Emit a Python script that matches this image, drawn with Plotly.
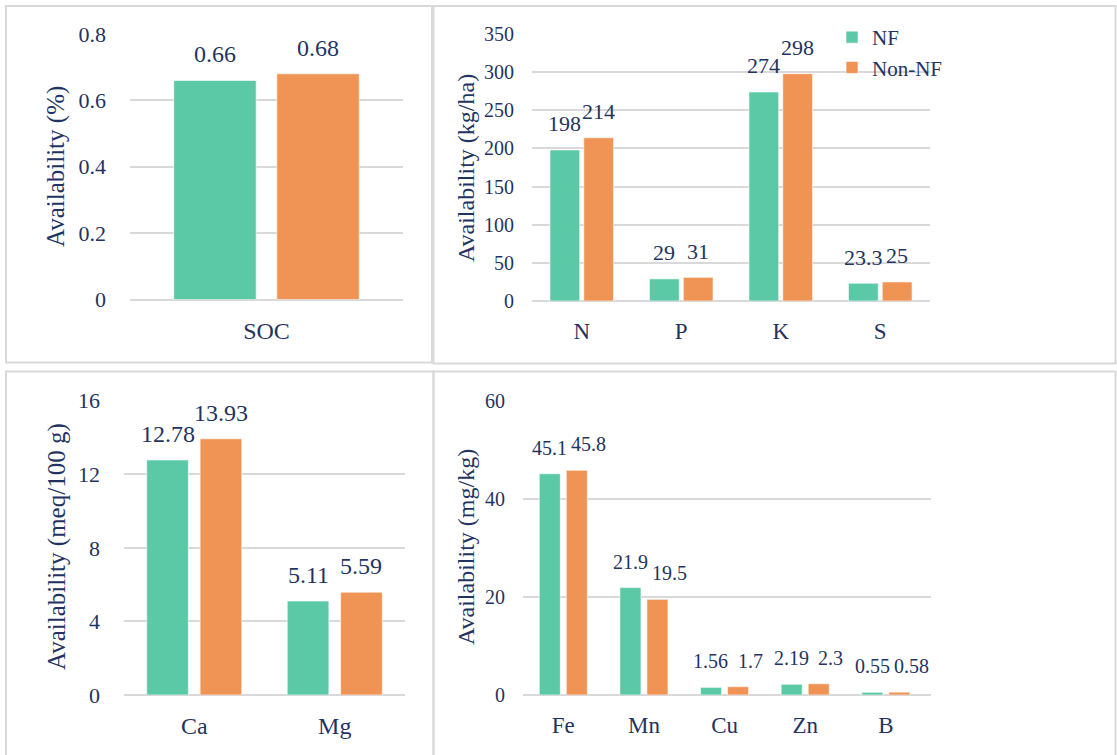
import plotly.graph_objects as go

W, H = 1117, 755
colors = {"NF": "#5BC9A5", "Non-NF": "#EF9455"}

cat1 = ["SOC"]
nf1 = [0.66]
non1 = [0.68]

cat2 = ["N", "P", "K", "S"]
nf2 = [198, 29, 274, 23.3]
non2 = [214, 31, 298, 25]

cat3 = ["Ca", "Mg"]
nf3 = [12.78, 5.11]
non3 = [13.93, 5.59]

cat4 = ["Fe", "Mn", "Cu", "Zn", "B"]
nf4 = [45.1, 21.9, 1.56, 2.19, 0.55]
non4 = [45.8, 19.5, 1.7, 2.3, 0.58]

ytitles = ["Availability (%)", "Availability (kg/ha)", "Availability (meq/100 g)", "Availability (mg/kg)"]

FONT = "Liberation Serif"
TXT = "#1F3462"
GRID = "#D9D9D9"

panels = [
    dict(cats=cat1, nf=nf1, non=non1, xd=(130, 403), yd=(34, 299.5), yr=[0, 0.8], dt=0.2,
         bg=0.245, bgg=0.2, tpos=(56, 167), tfs=25, lfs=24, cfs=24, kfs=22, ystand=23, nshift=0),
    dict(cats=cat2, nf=nf2, non=non2, xd=(532, 930), yd=(34, 301), yr=[0, 350], dt=50,
         bg=0.32, bgg=0.12, tpos=(466, 168), tfs=24, lfs=22, cfs=23, kfs=20, ystand=17, nshift=0),
    dict(cats=cat3, nf=nf3, non=non3, xd=(124, 405), yd=(400.7, 695), yr=[0, 16], dt=4,
         bg=0.24, bgg=0.22, tpos=(57, 547), tfs=25, lfs=24, cfs=24, kfs=22, ystand=23, nshift=0),
    dict(cats=cat4, nf=nf4, non=non4, xd=(523, 931), yd=(400.7, 695), yr=[0, 60], dt=20,
         bg=0.33, bgg=0.22, tpos=(466, 547), tfs=24, lfs=20, cfs=23, kfs=20, ystand=17, nshift=12),
]

fig = go.Figure()
layout = dict(
    width=W, height=H, margin=dict(l=0, r=0, t=0, b=0, autoexpand=False),
    paper_bgcolor="white", plot_bgcolor="white",
    font=dict(family=FONT, color=TXT, size=22),
    barmode="group", showlegend=True,
    legend=dict(x=832 / W, y=1 - 17 / H, xanchor="left", yanchor="top",
                font=dict(size=21, family=FONT, color=TXT), bgcolor="rgba(0,0,0,0)",
                tracegroupgap=0, itemwidth=30),
)

shapes = []
annotations = []
for i, p in enumerate(panels):
    n = "" if i == 0 else str(i + 1)
    xa, ya = "x" + n, "y" + n
    bg, bgg = p["bg"], p["bgg"]
    slot = (1 - bg) / 2
    w = slot * (1 - bgg)
    catpx = (p["xd"][1] - p["xd"][0]) / len(p["cats"])
    for k, (name, vals) in enumerate((("NF", p["nf"]), ("Non-NF", p["non"]))):
        off = -(1 - bg) / 2 + k * slot + (slot - w) / 2
        fig.add_trace(go.Bar(
            x=p["cats"], y=vals, name=name, xaxis=xa, yaxis=ya,
            width=w, offset=off,
            marker=dict(color=colors[name], line=dict(color="rgba(255,255,255,0.6)", width=1)),
            cliponaxis=False, showlegend=(i == 1),
        ))
        xs = (off + w / 2) * catpx + (p["nshift"] if k == 1 else 0)
        for c, v in zip(p["cats"], vals):
            annotations.append(dict(
                text=str(v), x=c, y=v, xref=xa, yref=ya, xshift=xs, yshift=26,
                xanchor="center", yanchor="middle", showarrow=False,
                font=dict(size=p["lfs"], family=FONT, color=TXT),
            ))
    layout["xaxis" + n] = dict(
        domain=[p["xd"][0] / W, p["xd"][1] / W], anchor=ya, showgrid=False, showline=False,
        ticks="", ticklabelstandoff=14, tickfont=dict(size=p["cfs"], family=FONT), automargin=False,
    )
    layout["yaxis" + n] = dict(
        domain=[1 - p["yd"][1] / H, 1 - p["yd"][0] / H], anchor=xa, range=p["yr"], dtick=p["dt"],
        showgrid=True, gridcolor=GRID, gridwidth=1.5, zeroline=True, zerolinecolor=GRID,
        zerolinewidth=1.5, showline=False, ticks="", ticklabelstandoff=p["ystand"],
        tickfont=dict(size=p["kfs"], family=FONT), automargin=False,
    )
    annotations.append(dict(
        text=ytitles[i], x=p["tpos"][0] / W, y=1 - p["tpos"][1] / H, xref="paper", yref="paper",
        textangle=-90, showarrow=False, font=dict(size=p["tfs"], family=FONT, color=TXT),
        xanchor="center", yanchor="middle",
    ))

# panel borders
for (x0, y0, x1, y1) in [(6, 6, 432, 362.5), (433.5, 6, 1115.5, 363.5),
                         (6, 371.5, 433.5, 760), (433.5, 371.5, 1115.5, 760)]:
    shapes.append(dict(type="rect", xref="paper", yref="paper",
                       x0=x0 / W, x1=x1 / W, y0=1 - y1 / H, y1=1 - y0 / H,
                       line=dict(color=GRID, width=2), fillcolor="rgba(0,0,0,0)", layer="below"))

layout["shapes"] = shapes
layout["annotations"] = annotations
fig.update_layout(**layout)

fig.write_html("out.html", config={"displayModeBar": False},
               post_script="document.body.style.margin='0';")
